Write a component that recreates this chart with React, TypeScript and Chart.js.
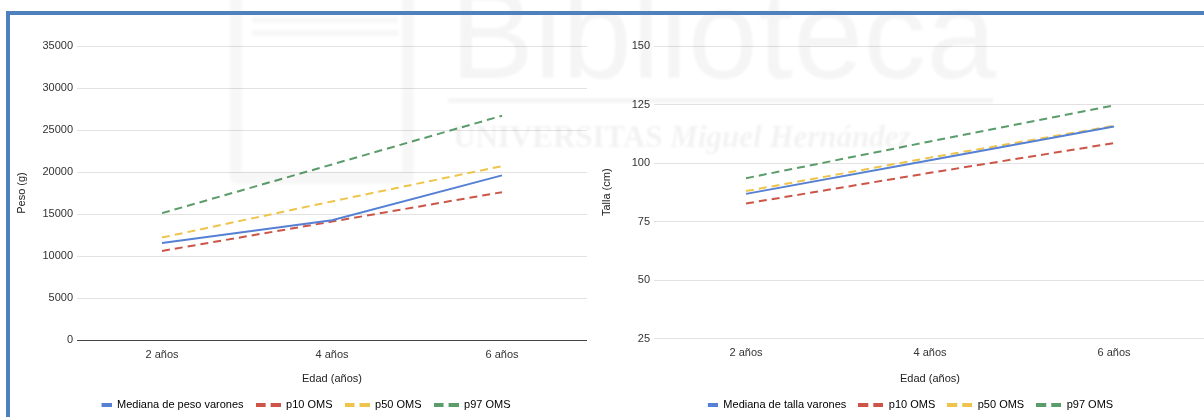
import React, { useEffect, useRef } from "react";
import { Chart, registerables } from "chart.js";

Chart.register(...registerables);

// Categorías del eje X
const edades = ["2 años", "4 años", "6 años"];

// Peso (g): mediana de la muestra y percentiles OMS
const pesoMediana = [11550, 14250, 19600];
const pesoP10 = [10600, 14100, 17600];
const pesoP50 = [12200, 16500, 20700];
const pesoP97 = [15100, 20900, 26700];

// Talla (cm): mediana de la muestra y percentiles OMS
const tallaMediana = [86.8, 101.2, 115.6];
const tallaP10 = [82.7, 95.8, 108.5];
const tallaP50 = [88.0, 102.3, 115.9];
const tallaP97 = [93.5, 109.2, 124.6];

// Rango de los ejes Y: mínimo, máximo, paso
const pesoEje = [0, 35000, 5000];
const tallaEje = [25, 150, 25];

const COLOR = {
  mediana: "#5580d4",
  p10: "#cc5548",
  p50: "#efc44c",
  p97: "#5b9c6b",
};
const FUENTE = 'Arial, "Liberation Sans", sans-serif';
const DISCONTINUA = [8, 5];

// Muestra de la leyenda: barra corta (continua) o dos trazos (discontinua)
function muestra(color: string, discontinua: boolean) {
  const c = document.createElement("canvas");
  c.width = 25;
  c.height = 4;
  const g = c.getContext("2d")!;
  g.fillStyle = color;
  if (discontinua) {
    g.fillRect(0, 0, 10, 4);
    g.fillRect(15, 0, 10, 4);
  } else {
    g.fillRect(15, 0, 10, 4);
  }
  return c;
}

type Serie = { label: string; data: number[]; color: string; discontinua: boolean };

function crearConfig(p: {
  series: Serie[];
  eje: number[];
  tituloY: string;
  anchoEjeY: number;
  altoEjeX: number;
  margenDer: number;
  tituloYPad: number;
}): any {
  return {
    type: "line",
    data: {
      labels: edades,
      datasets: p.series.map((s) => ({
        label: s.label,
        data: s.data,
        borderColor: s.color,
        backgroundColor: s.color,
        borderWidth: 2,
        borderDash: s.discontinua ? DISCONTINUA : [],
        pointRadius: 0,
        tension: 0,
        fill: false,
      })),
    },
    options: {
      responsive: false,
      animation: false,
      layout: { padding: { top: 46, right: p.margenDer, left: 0, bottom: 0 } },
      plugins: {
        tooltip: { enabled: false },
        legend: {
          position: "bottom",
          labels: {
            usePointStyle: true,
            pointStyleWidth: 25,
            padding: 12,
            color: "#333",
            font: { family: FUENTE, size: 11 },
            generateLabels: () =>
              p.series.map((s, i) => ({
                text: s.label,
                pointStyle: muestra(s.color, s.discontinua),
                fillStyle: s.color,
                strokeStyle: "transparent",
                lineWidth: 0,
                hidden: false,
                datasetIndex: i,
              })),
          },
        },
      },
      scales: {
        x: {
          type: "category",
          offset: true,
          grid: { display: false },
          border: { display: false },
          ticks: { color: "#333", font: { family: FUENTE, size: 11 }, padding: 0 },
          title: {
            display: true,
            text: "Edad (años)",
            color: "#222",
            font: { family: FUENTE, size: 11 },
            padding: { top: 0, bottom: 1 },
          },
          afterFit: (s: any) => {
            s.height = p.altoEjeX;
          },
        },
        y: {
          min: p.eje[0],
          max: p.eje[1],
          ticks: {
            stepSize: p.eje[2],
            color: "#333",
            font: { family: FUENTE, size: 11 },
            padding: 4,
            callback: (v: any) => String(v),
          },
          grid: {
            drawTicks: false,
            lineWidth: 1,
            color: (ctx: any) => (ctx.tick && ctx.tick.value === 0 ? "#444" : "#e2e2e2"),
          },
          border: { display: false },
          title: {
            display: true,
            text: p.tituloY,
            color: "#222",
            font: { family: FUENTE, size: 11 },
            padding: { top: p.tituloYPad, bottom: 0 },
          },
          afterFit: (s: any) => {
            s.width = p.anchoEjeY;
          },
        },
      },
    },
  };
}

function Grafico({ config, left, width }: { config: () => any; left: number; width: number }) {
  const ref = useRef<HTMLCanvasElement>(null);
  useEffect(() => {
    const chart = new Chart(ref.current!, config());
    return () => chart.destroy();
  }, []);
  return (
    <canvas
      ref={ref}
      width={width}
      height={420}
      style={{ position: "absolute", left, top: 0, width, height: 420 }}
    />
  );
}

const configPeso = () =>
  crearConfig({
    series: [
      { label: "Mediana de peso varones", data: pesoMediana, color: COLOR.mediana, discontinua: false },
      { label: "p10 OMS", data: pesoP10, color: COLOR.p10, discontinua: true },
      { label: "p50 OMS", data: pesoP50, color: COLOR.p50, discontinua: true },
      { label: "p97 OMS", data: pesoP97, color: COLOR.p97, discontinua: true },
    ],
    eje: pesoEje,
    tituloY: "Peso (g)",
    anchoEjeY: 67,
    altoEjeX: 47,
    margenDer: 13,
    tituloYPad: 5,
  });

const configTalla = () =>
  crearConfig({
    series: [
      { label: "Mediana de talla varones", data: tallaMediana, color: COLOR.mediana, discontinua: false },
      { label: "p10 OMS", data: tallaP10, color: COLOR.p10, discontinua: true },
      { label: "p50 OMS", data: tallaP50, color: COLOR.p50, discontinua: true },
      { label: "p97 OMS", data: tallaP97, color: COLOR.p97, discontinua: true },
    ],
    eje: tallaEje,
    tituloY: "Talla (cm)",
    anchoEjeY: 54,
    altoEjeX: 48.5,
    margenDer: 4,
    tituloYPad: 0,
  });

const tenue = "rgba(0,0,0,0.03)";

export default function App() {
  return (
    <div
      style={{
        position: "fixed",
        left: 0,
        top: 0,
        width: 1204,
        height: 417,
        overflow: "hidden",
        background: "#fff",
      }}
    >
      <Grafico config={configPeso} left={10} width={590} />
      <Grafico config={configTalla} left={600} width={610} />

      {/* marca de agua de la biblioteca */}
      <div style={{ position: "absolute", inset: 0, pointerEvents: "none", filter: "blur(1px)" }}>
        <div
          style={{
            position: "absolute",
            left: 230,
            top: -20,
            width: 160,
            height: 180,
            border: `12px solid ${tenue}`,
            borderRadius: 6,
          }}
        />
        <div style={{ position: "absolute", left: 252, top: 17, width: 146, height: 6, background: tenue }} />
        <div style={{ position: "absolute", left: 252, top: 30, width: 146, height: 6, background: tenue }} />
        <div
          style={{
            position: "absolute",
            left: 450,
            top: -28,
            fontFamily: FUENTE,
            fontSize: 126,
            lineHeight: 1,
            color: "rgba(0,0,0,0.04)",
            whiteSpace: "nowrap",
          }}
        >
          Biblioteca
        </div>
        <div style={{ position: "absolute", left: 448, top: 98, width: 545, height: 5, background: "rgba(0,0,0,0.04)" }} />
        <div
          style={{
            position: "absolute",
            left: 453,
            top: 121,
            fontFamily: '"Liberation Serif", "DejaVu Serif", serif',
            fontWeight: "bold",
            fontSize: 31,
            lineHeight: 1,
            color: "rgba(0,0,0,0.05)",
            whiteSpace: "nowrap",
          }}
        >
          UNIVERSITAS <span style={{ fontStyle: "italic" }}>Miguel Hernández</span>
        </div>
      </div>

      {/* marco */}
      <div
        style={{
          position: "absolute",
          left: 6,
          top: 11,
          width: 2000,
          height: 1000,
          borderTop: "4px solid #4f81bd",
          borderLeft: "4px solid #4f81bd",
        }}
      />
    </div>
  );
}
